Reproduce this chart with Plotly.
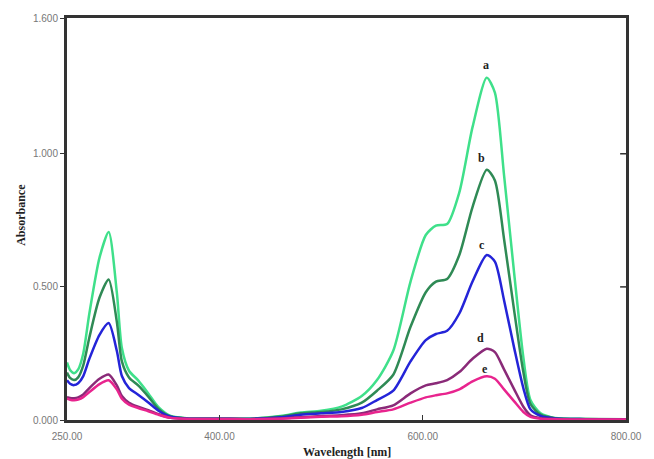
import plotly.graph_objects as go

wavelength = [250, 253, 257, 261, 266, 272, 282, 291, 299, 304, 311, 320, 330, 340, 352, 370,
              400, 430, 460, 480, 500, 520, 540, 555, 571, 588, 603, 613, 624, 636,
              649, 663, 671, 680, 690, 699, 706, 716, 730, 760, 800]

abs_a = [0.216, 0.188, 0.176, 0.19, 0.25, 0.40, 0.61, 0.706, 0.48, 0.27, 0.185, 0.149, 0.10, 0.048, 0.015, 0.006,
         0.006, 0.005, 0.015, 0.028, 0.035, 0.05, 0.09, 0.15, 0.26, 0.52, 0.695, 0.73, 0.736, 0.855,
         1.10, 1.286, 1.23, 0.92, 0.55, 0.235, 0.075, 0.025, 0.008, 0.004, 0.003]
abs_b = [0.178, 0.158, 0.150, 0.16, 0.205, 0.31, 0.46, 0.528, 0.37, 0.22, 0.16, 0.13, 0.088, 0.042, 0.013, 0.005,
         0.005, 0.005, 0.013, 0.025, 0.03, 0.04, 0.065, 0.11, 0.17, 0.35, 0.48, 0.52, 0.53, 0.62,
         0.80, 0.94, 0.90, 0.68, 0.41, 0.18, 0.06, 0.02, 0.007, 0.004, 0.003]
abs_c = [0.149, 0.136, 0.131, 0.138, 0.165, 0.23, 0.32, 0.364, 0.26, 0.165, 0.12, 0.095, 0.066, 0.035, 0.012, 0.005,
         0.005, 0.004, 0.01, 0.02, 0.025, 0.03, 0.045, 0.075, 0.11, 0.22, 0.30, 0.323, 0.335, 0.40,
         0.52, 0.62, 0.595, 0.45, 0.27, 0.12, 0.04, 0.015, 0.006, 0.003, 0.002]
abs_d = [0.086, 0.083, 0.082, 0.085, 0.096, 0.12, 0.155, 0.171, 0.13, 0.09, 0.065, 0.05, 0.037, 0.022, 0.008, 0.004,
         0.004, 0.003, 0.006, 0.01, 0.015, 0.018, 0.025, 0.04, 0.055, 0.10, 0.13, 0.138, 0.15, 0.18,
         0.23, 0.268, 0.255, 0.19, 0.115, 0.05, 0.018, 0.007, 0.004, 0.002, 0.002]
abs_e = [0.08, 0.076, 0.074, 0.077, 0.086, 0.105, 0.135, 0.149, 0.115, 0.08, 0.058, 0.045, 0.033, 0.02, 0.008, 0.004,
         0.004, 0.003, 0.005, 0.008, 0.012, 0.014, 0.02, 0.03, 0.04, 0.065, 0.085, 0.093, 0.10, 0.115,
         0.145, 0.164, 0.155, 0.115, 0.07, 0.03, 0.012, 0.005, 0.003, 0.002, 0.002]

series_names = ["a", "b", "c", "d", "e"]
series_values = [abs_a, abs_b, abs_c, abs_d, abs_e]
series_colors = ["#3fe08a", "#2f8a55", "#2424d8", "#8a2a78", "#e8248e"]

label_x = [662, 658, 658, 657, 661]
label_y = [1.335, 0.985, 0.658, 0.309, 0.193]

x_tickvals = [250, 400, 600, 800]
x_ticktext = ["250.00", "400.00", "600.00", "800.00"]
y_tickvals = [0, 0.5, 1.0, 1.51]
y_ticktext = ["0.000", "0.500", "1.000", "1.600"]

fig = go.Figure()
for name, vals, col in zip(series_names, series_values, series_colors):
    fig.add_trace(go.Scatter(x=wavelength, y=vals, mode="lines", name=name,
                             line=dict(color=col, width=2.5, shape="spline", smoothing=0.7),
                             showlegend=False))

for name, lx, ly in zip(series_names, label_x, label_y):
    fig.add_annotation(x=lx, y=ly, text="<b>%s</b>" % name, showarrow=False,
                       font=dict(family="Liberation Serif", size=12, color="#222"))

# right-side inside ticks
for tv in [0.5, 1.0]:
    fig.add_shape(type="line", xref="paper", yref="y", x0=1, x1=1 - 6 / 570, y0=tv, y1=tv,
                  line=dict(color="#333", width=1.5))

# axis titles
fig.add_annotation(xref="paper", yref="paper", x=0.5, y=-0.079, text="<b>Wavelength [nm]</b>",
                   showarrow=False, yanchor="middle",
                   font=dict(family="Liberation Serif", size=12, color="#222"))
fig.add_annotation(xref="paper", yref="paper", x=-0.0825, y=0.51, text="<b>Absorbance</b>",
                   showarrow=False, textangle=-90, xanchor="center", yanchor="middle",
                   font=dict(family="Liberation Serif", size=12, color="#222"))

fig.update_layout(
    width=654, height=459,
    margin=dict(l=67, r=17, t=14, b=39),
    paper_bgcolor="white", plot_bgcolor="white",
    font=dict(family="Liberation Sans", size=10, color="#777"),
    xaxis=dict(range=[250, 800], tickvals=x_tickvals, ticktext=x_ticktext,
               showgrid=False, zeroline=False, showline=True, linecolor="#333", linewidth=3,
               mirror=True, ticks="inside", ticklen=5, tickcolor="#333", ticklabelstandoff=5,
               tickfont=dict(size=10, color="#777")),
    yaxis=dict(range=[0, 1.51], tickvals=y_tickvals, ticktext=y_ticktext,
               showgrid=False, zeroline=False, showline=True, linecolor="#333", linewidth=3,
               mirror=True, ticks="outside", ticklen=4, tickcolor="#333",
               tickfont=dict(size=10, color="#777")),
)

fig.write_html("out.html")
